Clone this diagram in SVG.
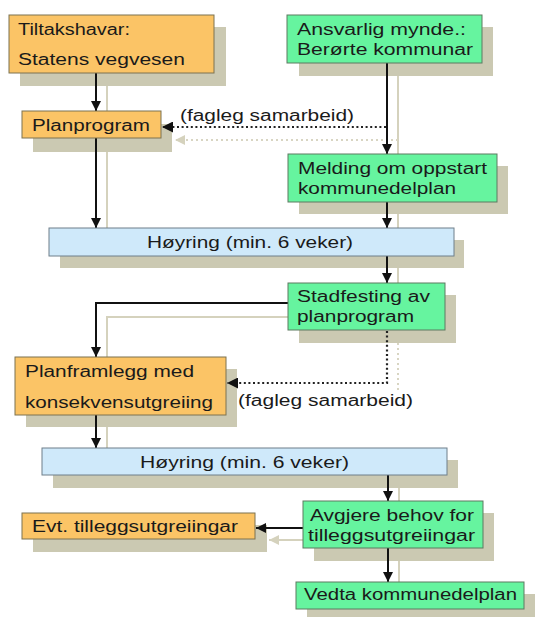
<svg xmlns="http://www.w3.org/2000/svg" width="542" height="617" viewBox="0 0 542 617">
<style>
.sh{fill:#cbc9b2}
.o{fill:#fbc466;stroke:#7d7350;stroke-width:1}
.g{fill:#66f49f;stroke:#5d7a60;stroke-width:1}
.b{fill:#cfe9fa;stroke:#6f7f8a;stroke-width:1}
.t{font-family:"Liberation Sans",Arial,sans-serif;font-size:16px;fill:#1a1a1a}
.c{fill:none;stroke:#111;stroke-width:2}
.d{fill:none;stroke:#222;stroke-width:2.2;stroke-dasharray:2 2.6}
.cs{fill:none;stroke:#d5d2bd;stroke-width:2}
.ds{fill:none;stroke:#d8d5c2;stroke-width:2;stroke-dasharray:2 3}
</style>
<defs>
<marker id="ah" viewBox="0 0 10 10" refX="10" refY="5" markerWidth="5" markerHeight="5" orient="auto" markerUnits="strokeWidth">
<path d="M0,0 L10,5 L0,10 z" fill="#111"/>
</marker>
<marker id="ahs" viewBox="0 0 10 10" refX="10" refY="5" markerWidth="5" markerHeight="5" orient="auto" markerUnits="strokeWidth">
<path d="M0,0 L10,5 L0,10 z" fill="#d5d2bd"/>
</marker>
</defs>
<rect width="542" height="617" fill="#ffffff"/>
<g id="connector-shadows">
<path class="cs" d="M107,86 V111"/>
<path class="cs" d="M398,76 V154"/>
<path class="ds" d="M398,140 H175" marker-end="url(#ahs)"/>
<path class="cs" d="M107,152 V228"/>
<path class="cs" d="M398,214 V228"/>
<path class="cs" d="M398,268 V283"/>
<path class="cs" d="M288,317 H107 V357"/>
<path class="ds" d="M398,343 V392"/>
<path class="cs" d="M107,427 V448"/>
<path class="cs" d="M399,488 V501"/>
<path class="cs" d="M303,540 H269" marker-end="url(#ahs)"/>
<path class="cs" d="M399,561 V582"/>
</g>
<g id="shadows">
<rect class="sh" x="20" y="27" width="206" height="59"/>
<rect class="sh" x="299" y="27" width="194" height="49"/>
<rect class="sh" x="33" y="124" width="139" height="28"/>
<rect class="sh" x="299" y="166" width="209" height="48"/>
<rect class="sh" x="60" y="240" width="404" height="28"/>
<rect class="sh" x="299" y="295" width="157" height="48"/>
<rect class="sh" x="26" y="369" width="211" height="58"/>
<rect class="sh" x="53" y="460" width="405" height="28"/>
<rect class="sh" x="33" y="525" width="234" height="27"/>
<rect class="sh" x="314" y="513" width="180" height="48"/>
<rect class="sh" x="307" y="594" width="228" height="27"/>
</g>
<g id="connectors">
<path class="c" d="M96,73 V111" marker-end="url(#ah)"/>
<path class="c" d="M387,63 V154" marker-end="url(#ah)"/>
<path class="d" d="M386,127 H162" marker-end="url(#ah)"/>
<path class="c" d="M96,138 V228" marker-end="url(#ah)"/>
<path class="c" d="M387,202 V228" marker-end="url(#ah)"/>
<path class="c" d="M387,256 V283" marker-end="url(#ah)"/>
<path class="c" d="M288,303 H96 V357" marker-end="url(#ah)"/>
<path class="d" d="M387,331 V383 H227" marker-end="url(#ah)"/>
<path class="c" d="M96,415 V448" marker-end="url(#ah)"/>
<path class="c" d="M388,475 V501" marker-end="url(#ah)"/>
<path class="c" d="M303,528 H256" marker-end="url(#ah)"/>
<path class="c" d="M388,548 V582" marker-end="url(#ah)"/>
</g>
<g id="label-fagleg-1"><text class="t" x="180" y="121" textLength="174" lengthAdjust="spacingAndGlyphs">(fagleg samarbeid)</text></g>
<g id="label-fagleg-2"><text class="t" x="238" y="406" textLength="175" lengthAdjust="spacingAndGlyphs">(fagleg samarbeid)</text></g>
<g id="tiltakshavar">
<rect class="o" x="9" y="15" width="205" height="58"/>
<text class="t" x="18" y="35" textLength="112" lengthAdjust="spacingAndGlyphs">Tiltakshavar:</text>
<text class="t" x="18" y="65" textLength="167" lengthAdjust="spacingAndGlyphs">Statens vegvesen</text>
</g>
<g id="ansvarlig">
<rect class="g" x="287" y="15" width="195" height="48"/>
<text class="t" x="297" y="35" textLength="169" lengthAdjust="spacingAndGlyphs">Ansvarlig mynde.:</text>
<text class="t" x="297" y="55" textLength="176" lengthAdjust="spacingAndGlyphs">Berørte kommunar</text>
</g>
<g id="planprogram">
<rect class="o" x="22" y="111" width="139" height="27"/>
<text class="t" x="32" y="131" textLength="118" lengthAdjust="spacingAndGlyphs">Planprogram</text>
</g>
<g id="melding">
<rect class="g" x="288" y="154" width="209" height="48"/>
<text class="t" x="298" y="174" textLength="189" lengthAdjust="spacingAndGlyphs">Melding om oppstart</text>
<text class="t" x="298" y="194" textLength="158" lengthAdjust="spacingAndGlyphs">kommunedelplan</text>
</g>
<g id="hoyring-1">
<rect class="b" x="49" y="228" width="405" height="28"/>
<text class="t" x="147" y="248" textLength="206" lengthAdjust="spacingAndGlyphs">Høyring (min. 6 veker)</text>
</g>
<g id="stadfesting">
<rect class="g" x="288" y="283" width="157" height="47"/>
<text class="t" x="297" y="302" textLength="133" lengthAdjust="spacingAndGlyphs">Stadfesting av</text>
<text class="t" x="297" y="322" textLength="117" lengthAdjust="spacingAndGlyphs">planprogram</text>
</g>
<g id="planframlegg">
<rect class="o" x="15" y="357" width="211" height="58"/>
<text class="t" x="25" y="377" textLength="169" lengthAdjust="spacingAndGlyphs">Planframlegg med</text>
<text class="t" x="25" y="408" textLength="188" lengthAdjust="spacingAndGlyphs">konsekvensutgreiing</text>
</g>
<g id="hoyring-2">
<rect class="b" x="42" y="448" width="405" height="27"/>
<text class="t" x="140" y="468" textLength="209" lengthAdjust="spacingAndGlyphs">Høyring (min. 6 veker)</text>
</g>
<g id="evt">
<rect class="o" x="22" y="513" width="233" height="26"/>
<text class="t" x="32" y="532" textLength="206" lengthAdjust="spacingAndGlyphs">Evt. tilleggsutgreiingar</text>
</g>
<g id="avgjere">
<rect class="g" x="303" y="501" width="180" height="47"/>
<text class="t" x="310" y="521" textLength="164" lengthAdjust="spacingAndGlyphs">Avgjere behov for</text>
<text class="t" x="308" y="541" textLength="167" lengthAdjust="spacingAndGlyphs">tilleggsutgreiingar</text>
</g>
<g id="vedta">
<rect class="g" x="296" y="582" width="228" height="27"/>
<text class="t" x="304" y="600" textLength="213" lengthAdjust="spacingAndGlyphs">Vedta kommunedelplan</text>
</g>
</svg>
